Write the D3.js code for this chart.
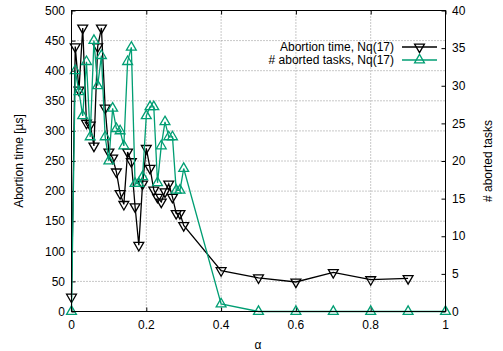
<!DOCTYPE html>
<html>
<head>
<meta charset="utf-8">
<script src="https://cdn.jsdelivr.net/npm/d3@7"></script>
<style>
  body { margin: 0; background: white; }
  text { font-family: "Liberation Sans", Arial, sans-serif; font-size: 12px; fill: black; }
</style>
</head>
<body>
<div id="container"></div>
<script>
// alpha values (x)
const timeAlpha = [0, 0.01, 0.02, 0.03, 0.04, 0.05, 0.06, 0.07, 0.08, 0.09, 0.10,
    0.11, 0.12, 0.13, 0.14, 0.15, 0.16, 0.17, 0.18, 0.19, 0.20,
    0.21, 0.22, 0.23, 0.24, 0.25, 0.26, 0.27, 0.28, 0.29, 0.30,
    0.4, 0.5, 0.6, 0.7, 0.8, 0.9];
// abortion time [us]
const timeValues = [24, 440, 368, 471, 313, 310, 275, 440, 471, 338, 265,
    255, 232, 196, 178, 265, 249, 174, 110, 212, 271,
    238, 202, 190, 182, 199, 212, 190, 163, 163, 143,
    68, 56, 49, 65, 53, 55];

const taskAlpha = [0, 0.01, 0.02, 0.03, 0.04, 0.05, 0.06, 0.07, 0.08, 0.09, 0.10,
    0.11, 0.12, 0.13, 0.14, 0.15, 0.16, 0.17, 0.18, 0.19, 0.20,
    0.21, 0.22, 0.23, 0.24, 0.25, 0.26, 0.27, 0.28, 0.29, 0.30,
    0.4, 0.5, 0.6, 0.7, 0.8, 0.9, 1.0];
// number of aborted tasks
const taskValues = [0, 32, 29.2, 26, 33.2, 23.2, 36, 30, 34, 23.2, 20,
    27, 24.3, 24, 22, 33.2, 35.1, 17, 17, 17.9, 26,
    27.2, 27.2, 17.1, 22, 25.2, 23.2, 23.2, 16.1, 16.1, 19,
    1, 0, 0, 0, 0, 0, 0];

const xTicks = [0, 0.2, 0.4, 0.6, 0.8, 1];
const yTicks = [0, 50, 100, 150, 200, 250, 300, 350, 400, 450, 500];
const y2Ticks = [0, 5, 10, 15, 20, 25, 30, 35, 40];

const width = 503, height = 351;
const plotLeft = 71.5, plotRight = 445.5, plotTop = 10.5, plotBottom = 311.5;
const black = "#000000", green = "#009e73";

const svg = d3.select("#container").append("svg")
    .attr("width", width)
    .attr("height", height);

const x = d3.scaleLinear().domain([0, 1]).range([plotLeft, plotRight]);
const y = d3.scaleLinear().domain([0, 500]).range([plotBottom, plotTop]);
const y2 = d3.scaleLinear().domain([0, 40]).range([plotBottom, plotTop]);

// grid
const grid = svg.append("g")
    .attr("stroke", "#909090")
    .attr("stroke-dasharray", "1,2")
    .attr("stroke-width", 1);
xTicks.slice(1, -1).forEach(t => {
    grid.append("line")
        .attr("x1", x(t)).attr("x2", x(t))
        .attr("y1", plotTop).attr("y2", plotBottom);
});
yTicks.slice(1, -1).forEach(t => {
    grid.append("line")
        .attr("x1", plotLeft).attr("x2", plotRight)
        .attr("y1", y(t)).attr("y2", y(t));
});

// axes (ticks inward)
svg.append("g")
    .attr("transform", `translate(0,${plotBottom})`)
    .call(d3.axisTop(x).tickValues(xTicks).tickSize(4).tickFormat(""))
    .call(g => g.select(".domain").remove());
svg.append("g")
    .attr("transform", `translate(0,${plotTop})`)
    .call(d3.axisBottom(x).tickValues(xTicks).tickSize(4).tickFormat(""))
    .call(g => g.select(".domain").remove());
svg.append("g")
    .attr("transform", `translate(${plotLeft},0)`)
    .call(d3.axisRight(y).tickValues(yTicks).tickSize(4).tickFormat(""))
    .call(g => g.select(".domain").remove());
svg.append("g")
    .attr("transform", `translate(${plotRight},0)`)
    .call(d3.axisLeft(y2).tickValues(y2Ticks).tickSize(4).tickFormat(""))
    .call(g => g.select(".domain").remove());

// tick labels
xTicks.forEach(t => {
    svg.append("text")
        .attr("x", x(t)).attr("y", 329)
        .attr("text-anchor", "middle")
        .text(d3.format("")(t));
});
yTicks.forEach(t => {
    svg.append("text")
        .attr("x", 65).attr("y", y(t)).attr("dy", "0.35em")
        .attr("text-anchor", "end")
        .text(t);
});
y2Ticks.forEach(t => {
    svg.append("text")
        .attr("x", 452).attr("y", y2(t)).attr("dy", "0.35em")
        .attr("text-anchor", "start")
        .text(t);
});

// axis titles
svg.append("text")
    .attr("x", 258).attr("y", 349)
    .attr("text-anchor", "middle")
    .text("α");
svg.append("text")
    .attr("transform", `translate(23,${(plotTop + plotBottom) / 2}) rotate(-90)`)
    .attr("text-anchor", "middle")
    .text("Abortion time [µs]");
svg.append("text")
    .attr("transform", `translate(492,${(plotTop + plotBottom) / 2}) rotate(-90)`)
    .attr("text-anchor", "middle")
    .text("# aborted tasks");

// series
const tri = d3.symbol().type(d3.symbolTriangle).size(42);

function drawSeries(xs, vs, scale, color, down) {
    const pts = xs.map((a, i) => [x(a), scale(vs[i])]);
    svg.append("path")
        .attr("d", d3.line()(pts))
        .attr("fill", "none")
        .attr("stroke", color)
        .attr("stroke-width", 1.3);
    pts.forEach(p => {
        svg.append("path")
            .attr("d", tri())
            .attr("transform", `translate(${p[0]},${p[1]})${down ? " rotate(180)" : ""}`)
            .attr("fill", "none")
            .attr("stroke", color)
            .attr("stroke-width", 1.3);
    });
}

drawSeries(timeAlpha, timeValues, y, black, true);
drawSeries(taskAlpha, taskValues, y2, green, false);

// border
svg.append("rect")
    .attr("x", plotLeft).attr("y", plotTop)
    .attr("width", plotRight - plotLeft).attr("height", plotBottom - plotTop)
    .attr("fill", "none")
    .attr("stroke", black)
    .attr("stroke-width", 1);

// legend
const legend = [
    { label: "Abortion time, Nq(17)", color: black, down: true, yy: 47 },
    { label: "# aborted tasks, Nq(17)", color: green, down: false, yy: 60 }
];
legend.forEach(l => {
    svg.append("text")
        .attr("x", 394).attr("y", l.yy).attr("dy", "0.35em")
        .attr("text-anchor", "end")
        .text(l.label);
    svg.append("line")
        .attr("x1", 402).attr("x2", 437)
        .attr("y1", l.yy).attr("y2", l.yy)
        .attr("stroke", l.color)
        .attr("stroke-width", 1.3);
    svg.append("path")
        .attr("d", tri())
        .attr("transform", `translate(419.5,${l.yy})${l.down ? " rotate(180)" : ""}`)
        .attr("fill", "none")
        .attr("stroke", l.color)
        .attr("stroke-width", 1.3);
});
</script>
</body>
</html>
